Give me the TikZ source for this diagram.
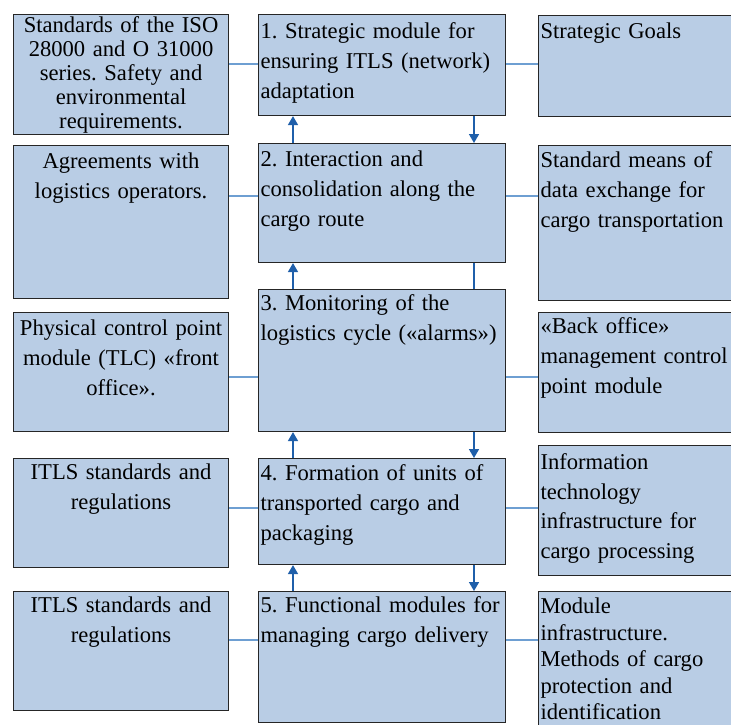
\documentclass[tikz,border=0pt]{standalone}
\usepackage{fontspec}
\setmainfont{Liberation Serif}
\usetikzlibrary{arrows.meta}
\definecolor{boxblue}{HTML}{B9CDE5}
\definecolor{linkblue}{HTML}{6E9FD2}
\definecolor{flowblue}{HTML}{1F5FAA}
\frenchspacing

\begin{document}
\begin{tikzpicture}[x=1pt, y=-1pt,
    modbox/.style={draw=black!85, line width=1.1pt, fill=boxblue, anchor=north west, inner xsep=2pt, inner ysep=0pt, font=\fontsize{22.6}{30}\selectfont},
    sidebox/.style={modbox, text width=211pt, align=center},
    midbox/.style={modbox, text width=243pt, align=left},
    goalbox/.style={modbox, text width=203pt, align=left},
    link/.style={draw=linkblue, line width=1.3pt},
    flow/.style={draw=flowblue, line width=1.6pt, -{Triangle[width=10pt, length=9pt]}}]
    \path[use as bounding box, clip] (0,0) rectangle (731,724);

    % Left column
    \node[sidebox, text height=18pt, text depth=102pt, font=\fontsize{22.6}{24}\selectfont] (std1) at (13,14) {Standards of the ISO\\ 28000 and O 31000\\ series. Safety and\\ environmental\\ requirements.};
    \node[sidebox, text height=23pt, text depth=130pt] (agree) at (13,145) {Agreements with\\ logistics operators.};
    \node[sidebox, text height=23pt, text depth=96pt] (front) at (13,312) {Physical control point\\ module (TLC) «front\\ office».};
    \node[sidebox, text height=21pt, text depth=88pt] (itls1) at (13,458) {ITLS standards and\\ regulations};
    \node[sidebox, text height=21pt, text depth=98pt] (itls2) at (13,591) {ITLS standards and\\ regulations};

    % Middle column
    \node[midbox, text height=24pt, text depth=77pt] (mod1) at (258,14) {1. Strategic module for\\ ensuring ITLS (network)\\ adaptation};
    \node[midbox, text height=23pt, text depth=96pt] (mod2) at (258,143) {2. Interaction and\\ consolidation along the\\ cargo route};
    \node[midbox, text height=21pt, text depth=121pt] (mod3) at (258,289) {3. Monitoring of the\\ logistics cycle («alarms»)};
    \node[midbox, text height=22pt, text depth=84pt] (mod4) at (258,458) {4. Formation of units of\\ transported cargo and\\ packaging};
    \node[midbox, text height=21pt, text depth=110pt] (mod5) at (258,591) {5. Functional modules for\\ managing cargo delivery};

    % Right column
    \node[goalbox, text height=23pt, text depth=78pt] (goals) at (538,15) {Strategic Goals};
    \node[goalbox, text height=22pt, text depth=133pt] (data) at (538,145) {Standard means of\\ data exchange for\\ cargo transportation};
    \node[goalbox, text height=21pt, text depth=99pt] (back) at (538,312) {«Back office»\\ management control\\ point module};
    \node[goalbox, text height=24pt, text depth=106pt, font=\fontsize{22.6}{29.5}\selectfont] (infra) at (538,445) {Information\\ technology\\ infrastructure for\\ cargo processing};
    \node[goalbox, text height=22pt, text depth=127pt, font=\fontsize{22.6}{26.5}\selectfont] (protect) at (538,591) {Module\\ infrastructure.\\ Methods of cargo\\ protection and\\ identification};

    % Links
    \draw[link] (std1.east |- 0,64) -- (mod1.west |- 0,64);
    \draw[link] (mod1.east |- 0,64) -- (goals.west |- 0,64);
    \draw[link] (agree.east |- 0,196) -- (mod2.west |- 0,196);
    \draw[link] (mod2.east |- 0,196) -- (data.west |- 0,196);
    \draw[link] (front.east |- 0,377) -- (mod3.west |- 0,377);
    \draw[link] (mod3.east |- 0,377) -- (back.west |- 0,377);
    \draw[link] (itls1.east |- 0,508) -- (mod4.west |- 0,508);
    \draw[link] (mod4.east |- 0,508) -- (infra.west |- 0,508);
    \draw[link] (itls2.east |- 0,640) -- (mod5.west |- 0,640);
    \draw[link] (mod5.east |- 0,640) -- (protect.west |- 0,640);

    % Flow between modules
    \draw[flow] (mod2.north -| 293,0) -- (mod1.south -| 293,0);
    \draw[flow] (mod1.south -| 474,0) -- (mod2.north -| 474,0);
    \draw[flow] (mod3.north -| 293,0) -- (mod2.south -| 293,0);
    \draw[flow, -] (mod2.south -| 474,0) -- (mod3.north -| 474,0);
    \draw[flow] (mod4.north -| 293,0) -- (mod3.south -| 293,0);
    \draw[flow] (mod3.south -| 474,0) -- (mod4.north -| 474,0);
    \draw[flow] (mod5.north -| 293,0) -- (mod4.south -| 293,0);
    \draw[flow] (mod4.south -| 474,0) -- (mod5.north -| 474,0);
\end{tikzpicture}
\end{document}
